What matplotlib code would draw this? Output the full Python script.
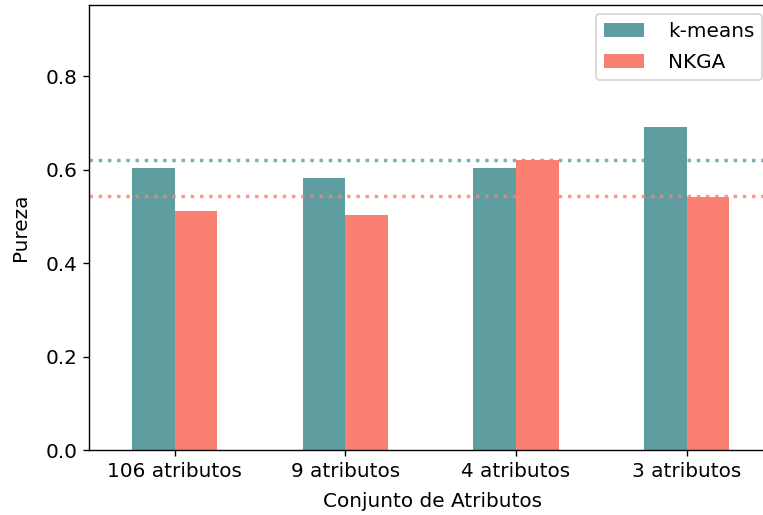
import matplotlib
matplotlib.use("Agg")
import matplotlib.pyplot as plt
import numpy as np

# pureza por conjunto de atributos
categorias = ["106 atributos", "9 atributos", "4 atributos", "3 atributos"]
kmeans = [0.603, 0.582, 0.603, 0.692]
nkga = [0.512, 0.503, 0.620, 0.542]

cor_kmeans = "cadetblue"
cor_nkga = "salmon"

plt.rcParams["font.size"] = 11.5

fig = plt.figure(figsize=(763 / 125, 515 / 125), dpi=125)
ax = fig.add_axes([89.3 / 763, 1 - 450 / 515, (776 - 89.3) / 763, 445 / 515])

x = np.arange(len(categorias))
w = 0.25

# medias como linhas pontilhadas
ax.axhline(np.mean(kmeans), color=cor_kmeans, ls=":", lw=2, alpha=0.8, zorder=0.5)
ax.bar(x - w / 2, kmeans, w, color=cor_kmeans, label="k-means", zorder=1)
ax.axhline(np.mean(nkga), color=cor_nkga, ls=":", lw=2, alpha=0.8, zorder=1.5)
ax.bar(x + w / 2, nkga, w, color=cor_nkga, label="NKGA", zorder=2)

ax.set_xlim(-0.5, 3.5 * (776 - 89.3) / (772 - 89.3) + (-0.5) * (1 - (776 - 89.3) / (772 - 89.3)))
ax.set_ylim(0, 0.952)
ax.set_xticks(x)
ax.set_xticklabels(categorias)
ax.set_yticks([0.0, 0.2, 0.4, 0.6, 0.8])
ax.set_xlabel("Conjunto de Atributos", labelpad=6)
ax.set_ylabel("Pureza", labelpad=9)
ax.legend(loc="upper right", bbox_to_anchor=(762 / 763, 1 - 14 / 515),
          bbox_transform=fig.transFigure, borderaxespad=0, labelspacing=0.6,
          handletextpad=1.2)

fig.savefig("out.png", dpi=125)
